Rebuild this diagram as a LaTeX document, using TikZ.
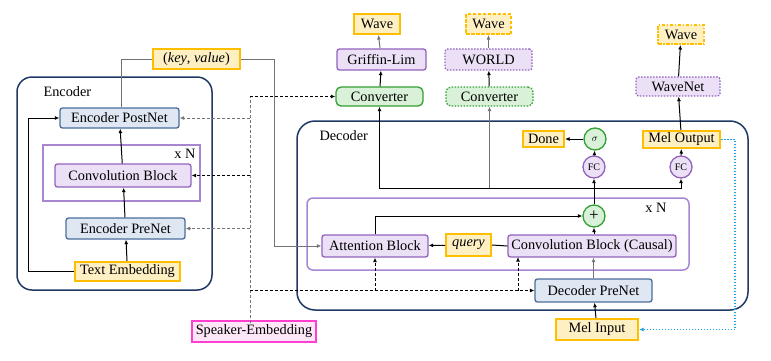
\documentclass[tikz,border=0pt]{standalone}
\usepackage[usenames,dvipsnames]{xcolor}
\usepackage{fontspec}
\setmainfont{Liberation Serif}
\usetikzlibrary{arrows.meta}

\definecolor{navy}{HTML}{1F3864}
\definecolor{netfill}{HTML}{DEE7F2}
\definecolor{netline}{HTML}{4A6E9C}
\definecolor{blkfill}{HTML}{EBE0F5}
\definecolor{blkline}{HTML}{9263BE}
\definecolor{repline}{HTML}{A886D2}
\definecolor{iofill}{HTML}{FFF0C4}
\definecolor{ioline}{HTML}{FFBF00}
\definecolor{cvfill}{HTML}{D8F1D8}
\definecolor{cvline}{HTML}{33A033}
\definecolor{spkfill}{HTML}{FDE6F8}
\definecolor{spkline}{HTML}{FF3FCF}
\definecolor{loopblue}{HTML}{1AA3E8}

\tikzset{
  box/.style={draw, rounded corners=2.5pt, line width=1.3pt, inner sep=0pt,
    font=\fontsize{14.3}{16}\selectfont},
  netbox/.style={box, fill=netfill, draw=netline},
  blkbox/.style={box, fill=blkfill, draw=blkline},
  convbox/.style={box, fill=cvfill, draw=cvline, rounded corners=5pt},
  iobox/.style={box, fill=iofill, draw=ioline, line width=2pt, rounded corners=0pt},
  unit/.style={circle, draw, line width=1.3pt, minimum size=22pt, inner sep=0pt,
    font=\fontsize{10}{10}\selectfont},
  link/.style={-{Latex[length=4.5pt,width=4pt]}, line width=1pt},
  grey/.style={draw=black!55},
  cond/.style={dash pattern=on 3pt off 2pt},
  dots/.style={dash pattern=on 1.5pt off 1.5pt},
  frame/.style={draw=navy, line width=1.5pt, rounded corners=15pt},
  repeat/.style={draw=repline, line width=1.5pt},
}

\begin{document}
\begin{tikzpicture}[x=1pt, y=-1pt]
  \useasboundingbox[fill=white] (0,0) rectangle (771,360);

  % encoder
  \draw[frame] (17,77) rectangle (212,290);
  \node[anchor=west, font=\fontsize{14.3}{16}\selectfont] at (40,92) {Encoder};
  \draw[repeat] (43,145) rectangle (200,201);
  \node[font=\fontsize{14.3}{16}\selectfont] at (185,154) {x N};
  \node[netbox, minimum width=119pt, minimum height=20pt] (postE) at (119.5,118) {Encoder PostNet};
  \node[blkbox, minimum width=136pt, minimum height=23pt] (convE) at (123,175.5) {Convolution Block};
  \node[netbox, minimum width=119pt, minimum height=21pt] (preE) at (125.5,228.5) {Encoder PreNet};
  \node[iobox, minimum width=105pt, minimum height=19pt] (textE) at (127.5,271.5) {Text Embedding};
  \node[iobox, minimum width=87pt, minimum height=20pt] (kv) at (196.5,59) {(\textit{key}, \textit{value})};
  \node[box, fill=spkfill, draw=spkline, line width=2pt, rounded corners=0pt,
    minimum width=124pt, minimum height=21pt] (spk) at (254,331.5) {Speaker-Embedding};

  % decoder
  \draw[frame, rounded corners=18pt] (297,121) rectangle (748,310);
  \node[anchor=west, font=\fontsize{14.3}{16}\selectfont] at (316,136) {Decoder};
  \draw[repeat, rounded corners=6pt] (307,198) rectangle (689,270);
  \node[font=\fontsize{14.3}{16}\selectfont] at (656,208) {x N};
  \node[blkbox, minimum width=106pt, minimum height=22pt] (att) at (375,246) {Attention Block};
  \node[iobox, minimum width=45pt, minimum height=22pt] (query) at (468.5,245) {\textit{query}};
  \node[blkbox, minimum width=168pt, minimum height=22pt] (convD) at (592,246) {Convolution Block (Causal)};
  \node[unit, fill=cvfill, draw=cvline, font=\fontsize{17}{17}\selectfont] (plus) at (594,216) {+};
  \node[unit, fill=blkfill, draw=blkline] (fc1) at (594,167) {FC};
  \node[unit, fill=blkfill, draw=blkline] (fc2) at (681,167) {FC};
  \node[unit, fill=cvfill, draw=cvline] (sig) at (595,139) {$\sigma$};
  \node[iobox, minimum width=41pt, minimum height=16pt] (done) at (543.5,139) {Done};
  \node[iobox, minimum width=77pt, minimum height=17pt] (melout) at (681.5,139.5) {Mel Output};
  \node[netbox, minimum width=117pt, minimum height=23pt] (preD) at (593.5,290.5) {Decoder PreNet};
  \node[iobox, minimum width=82pt, minimum height=21pt] (melin) at (597,329.5) {Mel Input};

  % vocoders
  \node[convbox, minimum width=87pt, minimum height=19pt] (conv1) at (379.5,96.5) {Converter};
  \node[blkbox, minimum width=89pt, minimum height=21pt] (griffin) at (381.5,59.5) {Griffin-Lim};
  \node[iobox, minimum width=46pt, minimum height=20pt] (wave1) at (377,24) {Wave};
  \node[convbox, dots, minimum width=87pt, minimum height=19pt] (conv2) at (489.5,96.5) {Converter};
  \node[blkbox, dots, minimum width=87pt, minimum height=21pt] (world) at (488.5,59.5) {WORLD};
  \node[iobox, dash pattern=on 3.5pt off 1.5pt, minimum width=45pt, minimum height=20pt] (wave2) at (488.5,24) {Wave};
  \node[blkbox, dots, minimum width=84pt, minimum height=19pt] (wavenet) at (678,86.5) {WaveNet};
  \node[iobox, dash pattern=on 3.5pt off 1.5pt on 1.5pt off 1.5pt, minimum width=46pt, minimum height=19pt] (wave3) at (681,34.5) {Wave};

  % encoder links
  \draw[link] (textE) -- (preE);
  \draw[link] (preE) -- (convE);
  \draw[link] (convE) -- (postE);
  \draw[link] (textE.west) -- ++(-46,0) |- (postE.west);
  \draw[grey, line width=1pt] ([xshift=2pt]postE.north) |- (kv.west);
  \draw[link, grey] (kv.east) -- ++(33,0) |- (att.west);

  % speaker embedding
  \coordinate (bus) at (250,96.5);
  \draw[grey, cond, line width=1pt] ([yshift=-3pt]spk.north -| bus) -- (bus);
  \draw[link, cond] (bus) -- (conv1.west);
  \draw[link, cond, grey] (postE.east -| bus) -- (postE.east);
  \draw[link, cond] (convE.east -| bus) -- (convE.east);
  \draw[link, cond, grey] (preE.east -| bus) -- (preE.east);
  \draw[link, cond] (preD.west -| bus) -- (preD.west);
  \draw[link, cond] (preD.west -| att.south) -- (att.south);
  \draw[link, cond] (preD.west -| 518,0) -- (518,257);

  % decoder links
  \draw[link] (melin) -- (preD);
  \draw[link, grey] (preD.north) -- (preD.north |- convD.south);
  \draw[line width=1pt] (convD.west) -- (query.east);
  \draw[link] (query) -- (att);
  \draw[link] (att.north) |- (plus.west);
  \draw[link] (plus |- convD.north) -- (plus.south);
  \draw[link] (plus) -- (fc1);
  \coordinate (split) at (plus.north |- 0,188);
  \draw[link] (split) -| (conv1.south);
  \draw[link] (split) -| (fc2.south);
  \draw[link, grey] (split -| conv2.south) -- (conv2.south);
  \draw[link] (fc1) -- (sig);
  \draw[link] (sig) -- (done);
  \draw[link] (fc2) -- (melout);
  \draw[link] (melout) -- (wavenet);
  \draw[link] (wavenet) -- (wave3);
  \draw[link, draw=loopblue, dots, line width=1.3pt] (melout.east) -- ++(14,0) |- (melin.east);

  % vocoder links
  \draw[link] (conv1) -- (griffin);
  \draw[link, grey] (griffin) -- (wave1);
  \draw[link] (conv2) -- (world);
  \draw[link, grey] (world) -- (wave2);
\end{tikzpicture}
\end{document}
